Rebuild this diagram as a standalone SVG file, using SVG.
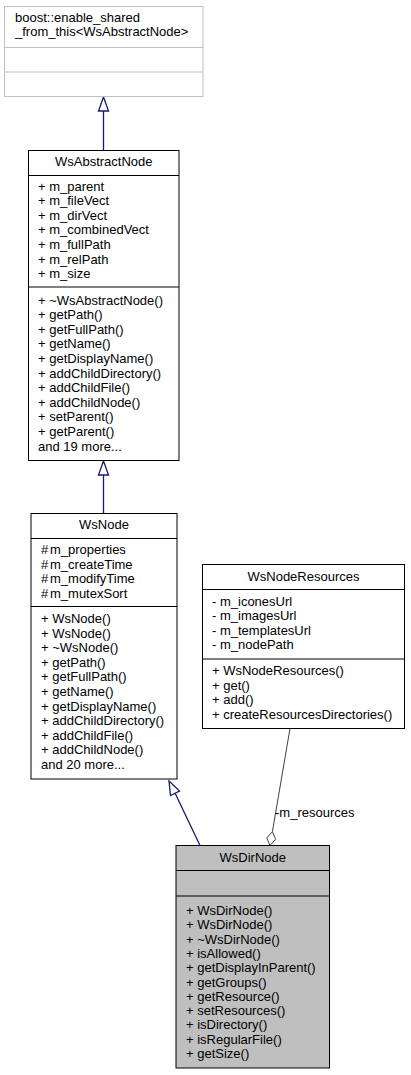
<svg xmlns="http://www.w3.org/2000/svg" width="411" height="1075" viewBox="0 0 411 1075">
<style>
text{font-family:"Liberation Sans",Arial,sans-serif;font-size:13px;fill:#000}
.t{text-anchor:middle}
.box{fill:#fff;stroke:#000;stroke-width:1}
.gbox{fill:#fff;stroke:#bfbfbf;stroke-width:1}
.cur{fill:#bfbfbf;stroke:#000;stroke-width:1}
.sep{stroke:#000;stroke-width:1}
.gsep{stroke:#bfbfbf;stroke-width:1}
.inh{stroke:#191970;stroke-width:1.3;fill:none}
.inhh{stroke:#191970;stroke-width:1.3;fill:#fff}
.agg{stroke:#404040;stroke-width:1;fill:none}
.aggh{stroke:#404040;stroke-width:1;fill:#fff}
</style>
<rect width="411" height="1075" fill="#fff"/>
<g id="connectors">
  <line class="inh" x1="103.5" y1="111" x2="103.5" y2="150.5"/>
  <polygon class="inhh" points="103.5,97 108.5,111 98.5,111"/>
  <line class="inh" x1="103.5" y1="475" x2="103.5" y2="513.5"/>
  <polygon class="inhh" points="103.5,461 108.5,475 98.5,475"/>
  <line class="inh" x1="175" y1="793" x2="200" y2="845.5"/>
  <polygon class="inhh" points="169,781 179.5,791 170.5,795.5"/>
  <line class="agg" x1="290" y1="728.5" x2="272.4" y2="831.7"/>
  <polygon class="aggh" points="270,845.5 266.8,837.9 272.4,831.7 275.6,839.4"/>
  <text x="275" y="817">-m_resources</text>
</g>
<g id="node-boost">
  <rect class="gbox" x="4.5" y="6.5" width="198.5" height="90"/>
  <line class="gsep" x1="4.5" y1="47.5" x2="203" y2="47.5"/>
  <line class="gsep" x1="4.5" y1="72" x2="203" y2="72"/>
  <text x="15" y="22">boost::enable_shared</text>
  <text x="15" y="36">_from_this&lt;WsAbstractNode&gt;</text>
</g>
<g id="node-WsAbstractNode">
  <rect class="box" x="28.5" y="150.5" width="150.5" height="310"/>
  <line class="sep" x1="28.5" y1="175.5" x2="179" y2="175.5"/>
  <line class="sep" x1="28.5" y1="287" x2="179" y2="287"/>
  <text class="t" x="103.75" y="166">WsAbstractNode</text>
  <text x="38" y="190.5">+ m_parent</text>
  <text x="38" y="205.1">+ m_fileVect</text>
  <text x="38" y="219.7">+ m_dirVect</text>
  <text x="38" y="234.3">+ m_combinedVect</text>
  <text x="38" y="248.9">+ m_fullPath</text>
  <text x="38" y="263.5">+ m_relPath</text>
  <text x="38" y="278.1">+ m_size</text>
  <text x="38" y="304.5">+ ~WsAbstractNode()</text>
  <text x="38" y="319.1">+ getPath()</text>
  <text x="38" y="333.7">+ getFullPath()</text>
  <text x="38" y="348.3">+ getName()</text>
  <text x="38" y="362.9">+ getDisplayName()</text>
  <text x="38" y="377.5">+ addChildDirectory()</text>
  <text x="38" y="392.1">+ addChildFile()</text>
  <text x="38" y="406.7">+ addChildNode()</text>
  <text x="38" y="421.3">+ setParent()</text>
  <text x="38" y="435.9">+ getParent()</text>
  <text x="38" y="450.5">and 19 more...</text>
</g>
<g id="node-WsNode">
  <rect class="box" x="31" y="513.5" width="146" height="265.5"/>
  <line class="sep" x1="31" y1="538.5" x2="177" y2="538.5"/>
  <line class="sep" x1="31" y1="606.5" x2="177" y2="606.5"/>
  <text class="t" x="104" y="528.5">WsNode</text>
  <text x="41" y="554">#</text><text x="50" y="554">m_properties</text>
  <text x="41" y="568.6">#</text><text x="50" y="568.6">m_createTime</text>
  <text x="41" y="583.2">#</text><text x="50" y="583.2">m_modifyTime</text>
  <text x="41" y="597.8">#</text><text x="50" y="597.8">m_mutexSort</text>
  <text x="41" y="623">+ WsNode()</text>
  <text x="41" y="637.6">+ WsNode()</text>
  <text x="41" y="652.2">+ ~WsNode()</text>
  <text x="41" y="666.8">+ getPath()</text>
  <text x="41" y="681.4">+ getFullPath()</text>
  <text x="41" y="696">+ getName()</text>
  <text x="41" y="710.6">+ getDisplayName()</text>
  <text x="41" y="725.2">+ addChildDirectory()</text>
  <text x="41" y="739.8">+ addChildFile()</text>
  <text x="41" y="754.4">+ addChildNode()</text>
  <text x="41" y="769">and 20 more...</text>
</g>
<g id="node-WsNodeResources">
  <rect class="box" x="202.5" y="564.5" width="202" height="164"/>
  <line class="sep" x1="202.5" y1="589.5" x2="404.5" y2="589.5"/>
  <line class="sep" x1="202.5" y1="659" x2="404.5" y2="659"/>
  <text class="t" x="303.5" y="580.5">WsNodeResources</text>
  <text x="212" y="605.5">- m_iconesUrl</text>
  <text x="212" y="620.1">- m_imagesUrl</text>
  <text x="212" y="634.7">- m_templatesUrl</text>
  <text x="212" y="649.3">- m_nodePath</text>
  <text x="212" y="675">+ WsNodeResources()</text>
  <text x="212" y="689.6">+ get()</text>
  <text x="212" y="704.2">+ add()</text>
  <text x="212" y="718.8">+ createResourcesDirectories()</text>
</g>
<g id="node-WsDirNode">
  <rect class="cur" x="176" y="845.5" width="153.5" height="222.5"/>
  <line class="sep" x1="176" y1="870.5" x2="329.5" y2="870.5"/>
  <line class="sep" x1="176" y1="896" x2="329.5" y2="896"/>
  <text class="t" x="252.75" y="861.5">WsDirNode</text>
  <text x="186" y="915">+ WsDirNode()</text>
  <text x="186" y="929.3">+ WsDirNode()</text>
  <text x="186" y="943.6">+ ~WsDirNode()</text>
  <text x="186" y="957.9">+ isAllowed()</text>
  <text x="186" y="972.2">+ getDisplayInParent()</text>
  <text x="186" y="986.5">+ getGroups()</text>
  <text x="186" y="1000.8">+ getResource()</text>
  <text x="186" y="1015.1">+ setResources()</text>
  <text x="186" y="1029.4">+ isDirectory()</text>
  <text x="186" y="1043.7">+ isRegularFile()</text>
  <text x="186" y="1058">+ getSize()</text>
</g>
</svg>
